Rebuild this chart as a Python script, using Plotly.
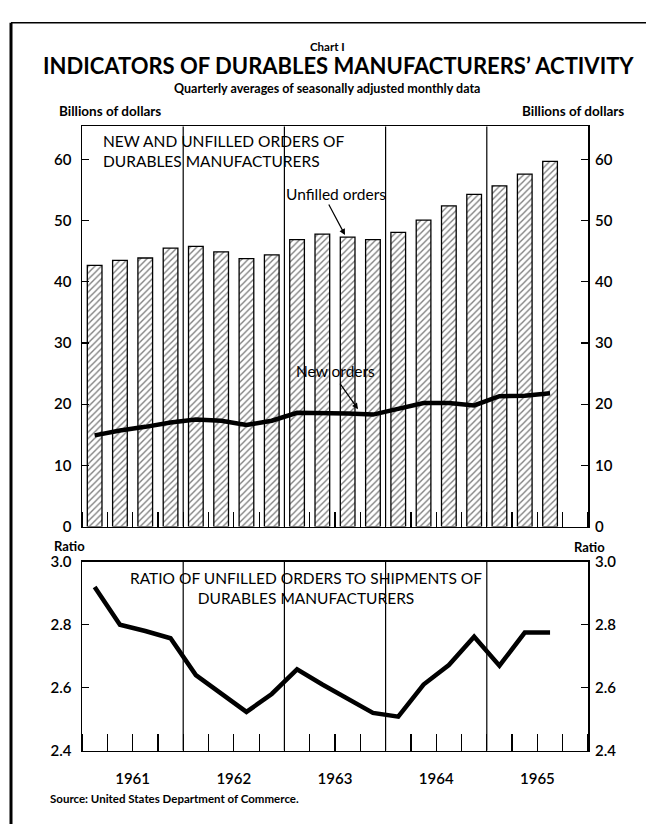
import plotly.graph_objects as go

# ---------------- data ----------------
quarters = ["1961 Q1", "1961 Q2", "1961 Q3", "1961 Q4",
            "1962 Q1", "1962 Q2", "1962 Q3", "1962 Q4",
            "1963 Q1", "1963 Q2", "1963 Q3", "1963 Q4",
            "1964 Q1", "1964 Q2", "1964 Q3", "1964 Q4",
            "1965 Q1", "1965 Q2", "1965 Q3"]
unfilled_orders = [42.7, 43.5, 43.9, 45.5, 45.8, 44.9, 43.8, 44.4,
                   46.9, 47.8, 47.3, 46.9, 48.1, 50.1, 52.4, 54.3,
                   55.7, 57.6, 59.7]
new_orders = [14.9, 15.7, 16.3, 17.0, 17.5, 17.3, 16.6, 17.3,
              18.6, 18.6, 18.5, 18.3, 19.3, 20.2, 20.2, 19.8,
              21.3, 21.4, 21.8]
ratio = [2.92, 2.80, 2.78, 2.757, 2.64, 2.58, 2.523, 2.58,
         2.658, 2.61, 2.565, 2.52, 2.508, 2.61, 2.672, 2.762,
         2.67, 2.775, 2.775]
years = ["1961", "1962", "1963", "1964", "1965"]
top_ticks = [0, 10, 20, 30, 40, 50, 60]
ratio_ticks = [2.4, 2.6, 2.8, 3.0]

# quarter index positions on a numeric axis
xq = list(range(len(quarters)))
n_quarters_axis = 4 * len(years)
year_centers = [4 * i + 1.5 for i in range(len(years))]
year_bounds = [4 * i - 0.5 for i in range(1, len(years))]

W, H = 652, 832
FONT = "Lato, 'Open Sans', sans-serif"


def px(x):
    return x / W


def py(y):
    return 1 - y / H


X0, X1 = 82, 588
TOP_T, TOP_B = 119, 528
BOT_T, BOT_B = 564, 757

fig = go.Figure()

fig.add_trace(go.Bar(
    x=xq, y=unfilled_orders, width=0.58, xaxis="x", yaxis="y",
    marker=dict(color="white", line=dict(color="black", width=1.3),
                pattern=dict(shape="/", fgcolor="black", bgcolor="white",
                             size=4.5, solidity=0.3)),
    showlegend=False, hoverinfo="skip"))
fig.add_trace(go.Scatter(
    x=xq, y=new_orders, mode="lines", xaxis="x", yaxis="y",
    line=dict(color="black", width=4.5), showlegend=False))
fig.add_trace(go.Scatter(
    x=xq, y=ratio, mode="lines", xaxis="x2", yaxis="y2",
    line=dict(color="black", width=4.5), showlegend=False))
# invisible traces so the right-hand axes are drawn
fig.add_trace(go.Scatter(x=[0], y=[0], mode="markers", xaxis="x", yaxis="y3",
                         marker=dict(opacity=0), showlegend=False, hoverinfo="skip"))
fig.add_trace(go.Scatter(x=[0], y=[2.5], mode="markers", xaxis="x2", yaxis="y4",
                         marker=dict(opacity=0), showlegend=False, hoverinfo="skip"))

tickfont = dict(family=FONT, size=15, color="black", weight=600)

common_x = dict(range=[-0.5, n_quarters_axis - 0.5], domain=[px(X0), px(X1)],
                showline=True, linecolor="black", linewidth=1.5, mirror=True,
                showgrid=False, zeroline=False, fixedrange=True)

fig.update_layout(
    width=W, height=H, margin=dict(l=0, r=0, t=0, b=0),
    paper_bgcolor="white", plot_bgcolor="white", bargap=0,
    xaxis=dict(**common_x, anchor="y", tickvals=year_centers, ticktext=years,
               showticklabels=False, ticks="",
               minor=dict(ticks="inside", ticklen=15, tickwidth=1.2,
                          tickcolor="black", tick0=0.5, dtick=1, showgrid=False)),
    yaxis=dict(domain=[py(TOP_B), py(TOP_T)], range=[0, 65.4], anchor="x",
               tickvals=top_ticks, ticks="inside", ticklen=7, tickwidth=1.2,
               tickcolor="black", showline=True, linecolor="black", linewidth=1.5,
               mirror=True, showgrid=False, zeroline=False, tickfont=tickfont,
               ticklabelstandoff=6, fixedrange=True),
    yaxis3=dict(overlaying="y", side="right", range=[0, 65.4], anchor="x",
                tickvals=top_ticks, ticks="inside", ticklen=7, tickwidth=1.2,
                tickcolor="black", showline=False, showgrid=False,
                zeroline=False, tickfont=tickfont, ticklabelstandoff=6,
                fixedrange=True),
    xaxis2=dict(**common_x, anchor="y2", tickvals=year_centers, ticktext=years,
                ticks="", tickfont=tickfont, ticklabelstandoff=14,
                minor=dict(ticks="inside", ticklen=17, tickwidth=1.2,
                           tickcolor="black", tick0=0.5, dtick=1, showgrid=False)),
    yaxis2=dict(domain=[py(BOT_B), py(BOT_T)], range=[2.4, 3.0], anchor="x2",
                tickvals=ratio_ticks, tickformat=".1f", ticks="inside", ticklen=7,
                tickwidth=1.2, tickcolor="black", showline=True, linecolor="black",
                linewidth=1.5, mirror=True, showgrid=False, zeroline=False,
                tickfont=tickfont, ticklabelstandoff=6, fixedrange=True),
    yaxis4=dict(overlaying="y2", side="right", range=[2.4, 3.0], anchor="x2",
                tickvals=ratio_ticks, tickformat=".1f", ticks="inside", ticklen=7,
                tickwidth=1.2, tickcolor="black", showline=False, showgrid=False,
                zeroline=False, tickfont=tickfont, ticklabelstandoff=6,
                fixedrange=True),
)

shapes = []
for b in year_bounds:
    shapes.append(dict(type="line", xref="x", yref="y domain", x0=b, x1=b, y0=0, y1=1,
                       line=dict(color="black", width=1.2), layer="above"))
    shapes.append(dict(type="line", xref="x2", yref="y2 domain", x0=b, x1=b, y0=0, y1=1,
                       line=dict(color="black", width=1.2), layer="above"))
# outer frame of the page
shapes.append(dict(type="line", xref="paper", yref="paper", x0=px(11), x1=px(11),
                   y0=py(13), y1=0, line=dict(color="black", width=3)))
shapes.append(dict(type="line", xref="paper", yref="paper", x0=px(11), x1=px(646),
                   y0=py(13), y1=py(13), line=dict(color="black", width=1.5)))
fig.update_layout(shapes=shapes)


def ann(text, x, y, size, bold=False, xanchor="center", align="center", **kw):
    return dict(text=text, x=px(x), y=py(y), xref="paper", yref="paper",
                xanchor=xanchor, yanchor="middle", align=align, showarrow=False,
                font=dict(family=FONT, size=size, color="black",
                          weight="bold" if bold else "normal"), **kw)


annotations = [
    ann("Chart I", 327, 37, 11.5, bold=True),
    ann("INDICATORS OF DURABLES MANUFACTURERS\u2019 ACTIVITY", 338, 57, 22, bold=True),
    ann("Quarterly averages of seasonally adjusted monthly data", 327, 80, 12.5, bold=True),
    ann("Billions of dollars", 57, 103, 13.5, bold=True, xanchor="left"),
    ann("Billions of dollars", 626, 103, 13.5, bold=True, xanchor="right"),
    ann("NEW AND UNFILLED ORDERS OF<br>DURABLES MANUFACTURERS", 101, 144, 15.5,
        xanchor="left", align="left"),
    ann("Unfilled orders", 336, 188, 15.5),
    ann("New orders", 335, 369, 15.5),
    ann("Ratio", 52, 548, 13, bold=True, xanchor="left"),
    ann("Ratio", 607, 549, 13, bold=True, xanchor="right"),
    ann("RATIO OF UNFILLED ORDERS TO SHIPMENTS OF<br>DURABLES MANUFACTURERS", 306, 591, 15.5),
    ann("Source: United States Department of Commerce.", 48, 806, 11.5, bold=True,
        xanchor="left"),
]
# arrows
annotations.append(dict(text="", x=px(345), y=py(230), xref="paper", yref="paper",
                        ax=-17, ay=-32, showarrow=True, arrowhead=2, arrowsize=1,
                        arrowwidth=1.2, arrowcolor="black"))
annotations.append(dict(text="", x=px(358), y=py(408), xref="paper", yref="paper",
                        ax=-19, ay=-27, showarrow=True, arrowhead=2, arrowsize=1,
                        arrowwidth=1.2, arrowcolor="black"))
fig.update_layout(annotations=annotations)

fig.write_html("out.html",
               config={"displayModeBar": False, "staticPlot": True},
               post_script="document.body.style.margin='0';"
                           "document.documentElement.style.overflow='hidden';")
